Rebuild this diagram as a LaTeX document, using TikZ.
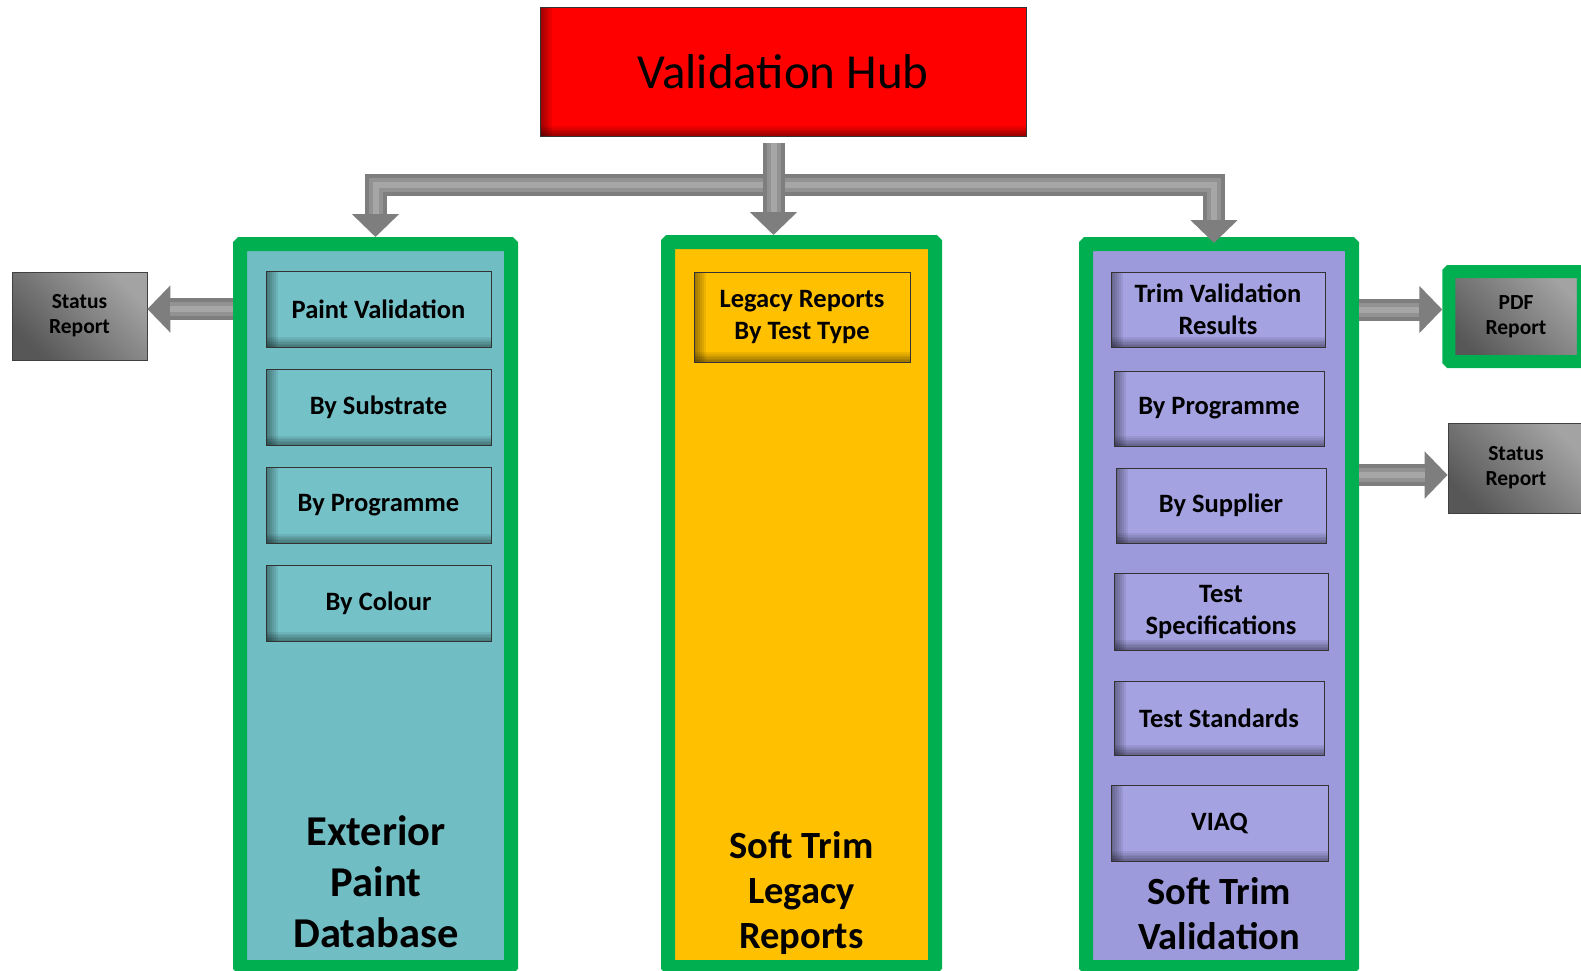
\documentclass[tikz,border=0pt]{standalone}
\usepackage{fontspec}
\setmainfont{Carlito}
\usetikzlibrary{positioning,arrows.meta,calc}
\definecolor{boxgreen}{HTML}{00B050}
\definecolor{paintfill}{HTML}{71BDC4}
\definecolor{paintbox}{HTML}{75C1C8}
\definecolor{legacyfill}{HTML}{FFC000}
\definecolor{trimfill}{HTML}{9D9ADC}
\definecolor{trimbox}{HTML}{A4A2E0}
\definecolor{pipegrey}{HTML}{7E7E7E}
\definecolor{pipemid}{HTML}{929292}
\definecolor{pipelight}{HTML}{A6A6A6}
\tikzstyle{inshadow}=[path picture={
    \foreach \i in {1,...,6}{
      \fill[black,opacity=.07] (path picture bounding box.south west) rectangle ([xshift=\i*2pt]path picture bounding box.north west);
      \fill[black,opacity=.07] (path picture bounding box.south west) rectangle ([yshift=\i*1.6pt]path picture bounding box.south east);
    }}]
\tikzstyle{colbox}=[draw=boxgreen,line width=14pt,rounded corners=1pt,inner sep=0pt]
\tikzstyle{itembox}=[draw=black!80,line width=0.8pt,inshadow,align=center,inner sep=0pt,font=\bfseries\fontsize{26.5}{32}\selectfont]
\tikzstyle{coltitle}=[align=center,font=\bfseries\fontsize{38.5}{45}\selectfont]
\tikzstyle{reportbox}=[draw=black!75,line width=0.8pt,top color=black!36,bottom color=black!66,shading angle=-45,align=center,inner sep=0pt,font=\bfseries\fontsize{21.5}{25}\selectfont]
\tikzstyle{pipe}=[line width=22pt,draw=pipegrey,line join=miter]
\tikzstyle{onetip}=[-{Triangle[width=46pt,length=23pt]},
  postaction={draw=pipemid,line width=14pt,-,shorten >=23pt},
  postaction={draw=pipelight,line width=6pt,-,shorten >=23pt}]
\tikzstyle{twotips}=[{Triangle[width=46pt,length=23pt]}-{Triangle[width=46pt,length=23pt]},
  postaction={draw=pipemid,line width=14pt,-,shorten >=23pt,shorten <=23pt},
  postaction={draw=pipelight,line width=6pt,-,shorten >=23pt,shorten <=23pt}]

\begin{document}
\begin{tikzpicture}[x=1pt,y=-1pt]
  \useasboundingbox (0,0) rectangle (1581,970);
  % top
  \node[draw=black!80,line width=0.8pt,fill=red,inshadow,minimum width=486pt,minimum height=129pt,
        font=\fontsize{49}{58}\selectfont] (hub) at (783,71.5) {Validation Hub};
  % the three columns
  \node[colbox,fill=paintfill,minimum width=271pt,minimum height=723pt] (epd) at (375.5,605.5) {};
  \node[colbox,fill=legacyfill,minimum width=267pt,minimum height=725pt] (stl) at (801.5,604.5) {};
  \node[colbox,fill=trimfill,minimum width=266pt,minimum height=723pt] (stv) at (1219,605.5) {};
  % exterior paint
  \node[itembox,fill=paintbox,minimum width=225pt,minimum height=76pt] (pv) at (378.5,309) {Paint Validation};
  \node[itembox,fill=paintbox,minimum width=225pt,minimum height=76pt] (psub) at (378.5,407.5) {By Substrate};
  \node[itembox,fill=paintbox,minimum width=225pt,minimum height=76pt] (pprog) at (378.5,505.5) {By Programme};
  \node[itembox,fill=paintbox,minimum width=225pt,minimum height=76pt] (pcol) at (378.5,603.5) {By Colour};
  \node[coltitle,font=\bfseries\fontsize{42.5}{51}\selectfont] (epdt) at (376,882) {Exterior\\Paint\\Database};
  % soft trim legacy
  \node[itembox,fill=legacyfill,minimum width=216pt,minimum height=90pt] (lrt) at (802,317) {Legacy Reports\\By Test Type};
  \node[coltitle] (stlt) at (801.5,893.5) {Soft Trim\\Legacy\\Reports};
  % soft trim validation
  \node[itembox,fill=trimbox,minimum width=214pt,minimum height=75pt] (tvr) at (1218,309.5) {Trim Validation\\Results};
  \node[itembox,fill=trimbox,minimum width=210pt,minimum height=75pt] (tprog) at (1219,408.5) {By Programme};
  \node[itembox,fill=trimbox,minimum width=210pt,minimum height=75pt] (tsup) at (1221,505.5) {By Supplier};
  \node[itembox,fill=trimbox,minimum width=214pt,minimum height=77pt] (tspec) at (1221,611.5) {Test\\Specifications};
  \node[itembox,fill=trimbox,minimum width=210pt,minimum height=74pt] (tstd) at (1219,718) {Test Standards};
  \node[itembox,fill=trimbox,minimum width=217pt,minimum height=76pt] (viaq) at (1219.5,823) {VIAQ};
  \node[coltitle] (stvt) at (1219,914) {Soft Trim\\Validation};
  % reports
  \node[reportbox,minimum width=135pt,minimum height=88pt] (lsr) at (79.5,316) {Status\\Report};
  \node[reportbox,draw=boxgreen,line width=13pt,rounded corners=1pt,minimum width=134.5pt,minimum height=90pt] (pdf) at (1516,316.5) {PDF\\Report};
  \node[reportbox,minimum width=136pt,minimum height=90pt] (rsr) at (1516,468) {Status\\Report};
  % arrows
  \coordinate (stem) at (773.5,143);
  \coordinate (bar) at (773.5,185);
  \draw[pipe,twotips] (epd.north) |- (bar) -| ([xshift=-5pt,yshift=-6pt]stv.north);
  \draw[pipe,onetip] (stem) -- (stem |- stl.north);
  \draw[pipe,onetip] (epd.west |- pv) -- (lsr.east |- pv);
  \draw[pipe,onetip] (stv.east |- tvr) -- (pdf.west |- tvr);
  \draw[pipe,onetip] ([yshift=-7pt]stv.east |- rsr) -- ([yshift=-7pt]rsr.west);
\end{tikzpicture}
\end{document}
